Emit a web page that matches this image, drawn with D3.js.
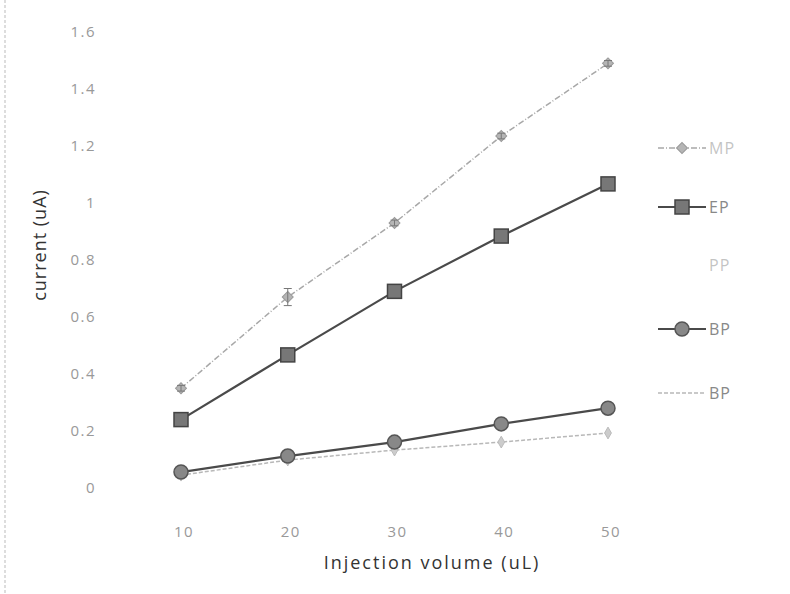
<!DOCTYPE html>
<html>
<head>
<meta charset="utf-8">
<script src="https://cdn.jsdelivr.net/npm/d3@7"></script>
<style>
  body { margin: 0; background: #fff; }
  svg { display: block; font-family: "Open Sans", sans-serif; }
  .tick-label { fill: #999; font-size: 15px; letter-spacing: 1.5px; }
  .axis-title { fill: #333; font-size: 18px; letter-spacing: 2px; }
  .legend-label { fill: #888; font-size: 16px; letter-spacing: 1px; }
</style>
</head>
<body>
<svg id="chart" width="790" height="594"></svg>
<script>
// values
var volumes = [10, 20, 30, 40, 50];
var mpValues = [0.35, 0.67, 0.93, 1.235, 1.49];
var mpErrors = [0.01, 0.03, 0.01, 0.01, 0.01];
var epValues = [0.24, 0.467, 0.69, 0.884, 1.067];
var bpValues = [0.056, 0.112, 0.161, 0.225, 0.28];
var bp2Values = [0.045, 0.098, 0.133, 0.161, 0.193];
var yTicks = [0, 0.2, 0.4, 0.6, 0.8, 1, 1.2, 1.4, 1.6];
var legendNames = ['MP', 'EP', 'PP', 'BP', 'BP'];

var svg = d3.select('#chart');

var x = d3.scaleLinear().domain([10, 50]).range([181, 608]);
var y = d3.scaleLinear().domain([0, 1.6]).range([488, 32]);

// dashed left border of the scan
svg.append('line')
    .attr('x1', 5).attr('x2', 5).attr('y1', 0).attr('y2', 594)
    .attr('stroke', '#bbb').attr('stroke-width', 1)
    .attr('stroke-dasharray', '3,2');

// y tick labels
svg.append('g').selectAll('text')
    .data(yTicks)
    .enter().append('text')
    .attr('class', 'tick-label')
    .attr('x', 96)
    .attr('y', d => y(d))
    .attr('dy', '0.35em')
    .attr('text-anchor', 'end')
    .text(d => d3.format('')(d));

// x tick labels
svg.append('g').selectAll('text')
    .data(volumes)
    .enter().append('text')
    .attr('class', 'tick-label')
    .attr('x', d => x(d) + 3)
    .attr('y', 532)
    .attr('dy', '0.35em')
    .attr('text-anchor', 'middle')
    .text(d => d);

// axis titles
svg.append('text')
    .attr('class', 'axis-title')
    .attr('x', 432).attr('y', 569)
    .attr('text-anchor', 'middle')
    .text('Injection volume (uL)');

svg.append('text')
    .attr('class', 'axis-title')
    .attr('transform', 'translate(46,245) rotate(-90)')
    .attr('text-anchor', 'middle')
    .style('letter-spacing', '1px')
    .text('current (uA)');

var line = d3.line()
    .x((d, i) => x(volumes[i]))
    .y(d => y(d));

var series = [
    {name: 'MP', values: mpValues, color: '#a8a8a8', width: 1.5, dash: '6,2,1,2', marker: 'diamond', fill: '#b5b5b5', stroke: '#999'},
    {name: 'EP', values: epValues, color: '#4a4a4a', width: 2.2, dash: null, marker: 'square', fill: '#777', stroke: '#444'},
    {name: 'BP', values: bpValues, color: '#4a4a4a', width: 2.2, dash: null, marker: 'circle', fill: '#888', stroke: '#555'},
    {name: 'BP', values: bp2Values, color: '#b8b8b8', width: 1.5, dash: '4,2', marker: 'small', fill: '#ccc', stroke: '#bbb'}
];

function drawMarker(g, type, cx, cy, s) {
    if (type === 'square') {
        g.append('rect')
            .attr('x', cx - 7).attr('y', cy - 7)
            .attr('width', 14).attr('height', 14)
            .attr('fill', s.fill).attr('stroke', s.stroke).attr('stroke-width', 1.5);
    } else if (type === 'circle') {
        g.append('circle')
            .attr('cx', cx).attr('cy', cy).attr('r', 7)
            .attr('fill', s.fill).attr('stroke', s.stroke).attr('stroke-width', 1.5);
    } else if (type === 'diamond') {
        g.append('path')
            .attr('transform', 'translate(' + cx + ',' + cy + ') rotate(45)')
            .attr('d', d3.symbol().type(d3.symbolSquare).size(60)())
            .attr('fill', s.fill).attr('stroke', s.stroke).attr('stroke-width', 1);
    } else {
        g.append('path')
            .attr('transform', 'translate(' + cx + ',' + cy + ')')
            .attr('d', d3.symbol().type(d3.symbolDiamond).size(40)())
            .attr('fill', s.fill).attr('stroke', s.stroke).attr('stroke-width', 1);
    }
}

// draw lower series first
series.slice().reverse().forEach(function(s) {
    var g = svg.append('g');
    g.append('path')
        .datum(s.values)
        .attr('fill', 'none')
        .attr('stroke', s.color)
        .attr('stroke-width', s.width)
        .attr('stroke-dasharray', s.dash)
        .attr('d', line);
    s.values.forEach(function(v, i) {
        drawMarker(g, s.marker, x(volumes[i]), y(v), s);
    });
});

// error bars on MP
var eg = svg.append('g').attr('stroke', '#777').attr('stroke-width', 1);
mpValues.forEach(function(v, i) {
    var cx = x(volumes[i]);
    var top = y(v + mpErrors[i]), bot = y(v - mpErrors[i]);
    eg.append('line').attr('x1', cx).attr('x2', cx).attr('y1', top).attr('y2', bot);
    eg.append('line').attr('x1', cx - 4).attr('x2', cx + 4).attr('y1', top).attr('y2', top);
    eg.append('line').attr('x1', cx - 4).attr('x2', cx + 4).attr('y1', bot).attr('y2', bot);
});

// legend
var legendY = [148, 207, 265, 329, 393];
var legendStyle = [series[0], series[1], null, series[2], series[3]];
legendNames.forEach(function(name, i) {
    var g = svg.append('g');
    var s = legendStyle[i];
    if (s) {
        g.append('line')
            .attr('x1', 658).attr('x2', 706)
            .attr('y1', legendY[i]).attr('y2', legendY[i])
            .attr('stroke', s.color).attr('stroke-width', s.width)
            .attr('stroke-dasharray', s.dash);
        if (s.marker !== 'small') drawMarker(g, s.marker, 682, legendY[i], s);
    }
    g.append('text')
        .attr('class', 'legend-label')
        .attr('x', 709).attr('y', legendY[i])
        .attr('dy', '0.35em')
        .attr('fill-opacity', i === 0 || i === 2 ? 0.5 : 1)
        .text(name);
});
</script>
</body>
</html>
